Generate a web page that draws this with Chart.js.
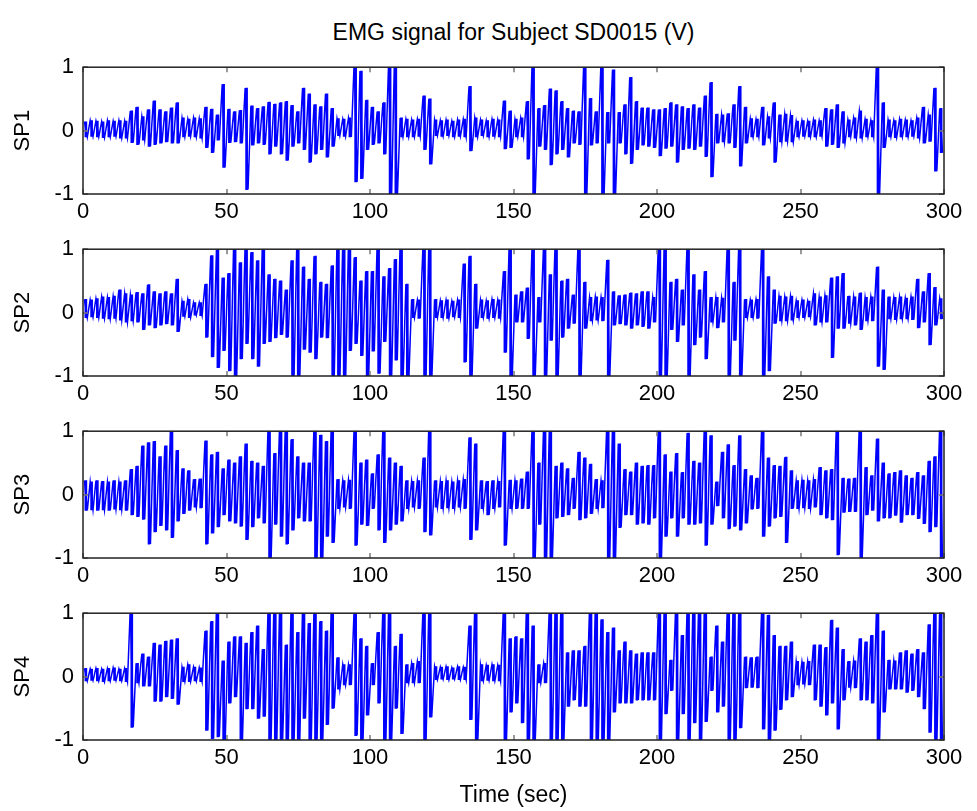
<!DOCTYPE html>
<html>
<head>
<meta charset="utf-8">
<title>EMG signal for Subject SD0015</title>
<script src="https://cdn.jsdelivr.net/npm/chart.js@4.4.0/dist/chart.umd.min.js"></script>
<style>
  body { margin: 0; background: #fff; }
  #page { position: relative; width: 977px; height: 811px; overflow: hidden; font-family: "Liberation Sans", Arial, sans-serif; color: #000; }
  #page canvas { position: absolute; left: 0; }
  .txt { position: absolute; left: 83px; width: 861px; text-align: center; white-space: nowrap; }
</style>
</head>
<body>
<div id="page">
  <div class="txt" id="title" style="top:19px; font-size:23px; line-height:26px;">EMG signal for Subject SD0015 (V)</div>
  <canvas id="c1" width="977" height="183"></canvas>
  <canvas id="c2" width="977" height="183"></canvas>
  <canvas id="c3" width="977" height="183"></canvas>
  <canvas id="c4" width="977" height="183"></canvas>
  <div class="txt" id="xlabel" style="top:781px; font-size:23px; line-height:26px;">Time (sec)</div>
</div>
<script>
// each value pair is the highest and lowest swing read in one 2-second slice
const binSeconds = 2;
const channels = ['SP1', 'SP2', 'SP3', 'SP4'];
const xTicks = [0, 50, 100, 150, 200, 250, 300];
const yTicks = [-1, 0, 1];

const sp1Hi = [
  0.14, 0.16, 0.15, 0.14, 0.16, 0.15, 0.16, 0.15, 0.31, 0.37,
  0.22, 0.33, 0.47, 0.33, 0.30, 0.36, 0.44, 0.20, 0.18, 0.20,
  0.19, 0.37, 0.34, 0.25, 0.73, 0.34, 0.30, 0.32, 0.67, 0.39,
  0.35, 0.38, 0.45, 0.42, 0.44, 0.46, 0.40, 0.30, 0.67, 0.58,
  0.41, 0.38, 0.58, 0.35, 0.19, 0.18, 0.20, 1.10, 0.94, 0.48,
  0.37, 0.30, 0.44, 1.10, 1.10, 0.20, 0.18, 0.17, 0.18, 0.55,
  0.50, 0.17, 0.16, 0.17, 0.15, 0.17, 0.18, 0.70, 0.20, 0.17,
  0.16, 0.18, 0.17, 0.47, 0.31, 0.18, 0.20, 0.46, 1.10, 0.35,
  0.40, 0.66, 0.63, 0.46, 0.35, 0.31, 0.30, 1.10, 0.51, 0.30,
  1.10, 0.29, 0.96, 0.29, 0.41, 0.84, 0.46, 0.36, 0.36, 0.33,
  0.33, 0.35, 0.44, 0.41, 0.38, 0.35, 0.41, 0.36, 0.55, 0.76,
  0.26, 0.25, 0.27, 0.41, 0.70, 0.37, 0.19, 0.18, 0.37, 0.22,
  0.44, 0.25, 0.26, 0.24, 0.15, 0.16, 0.15, 0.17, 0.16, 0.35,
  0.33, 0.41, 0.30, 0.17, 0.20, 0.31, 0.18, 0.16, 1.10, 0.44,
  0.17, 0.16, 0.18, 0.17, 0.16, 0.20, 0.37, 0.25, 0.67, 0.35
];
const sp1Lo = [
  -0.10, -0.09, -0.10, -0.11, -0.10, -0.09, -0.12, -0.12, -0.19, -0.22,
  -0.15, -0.25, -0.22, -0.20, -0.18, -0.20, -0.20, -0.10, -0.09, -0.10,
  -0.12, -0.27, -0.35, -0.15, -0.58, -0.19, -0.18, -0.20, -0.93, -0.23,
  -0.20, -0.22, -0.37, -0.25, -0.37, -0.47, -0.25, -0.20, -0.30, -0.50,
  -0.37, -0.30, -0.42, -0.25, -0.08, -0.09, -0.10, -0.81, -0.76, -0.30,
  -0.22, -0.20, -0.37, -1.10, -1.10, -0.10, -0.10, -0.10, -0.09, -0.30,
  -0.53, -0.08, -0.09, -0.08, -0.10, -0.09, -0.10, -0.32, -0.10, -0.08,
  -0.10, -0.09, -0.10, -0.29, -0.27, -0.10, -0.10, -0.45, -1.10, -0.25,
  -0.30, -0.54, -0.37, -0.30, -0.42, -0.20, -0.22, -1.10, -0.23, -0.20,
  -1.10, -0.20, -1.10, -0.20, -0.37, -0.52, -0.30, -0.23, -0.25, -0.27,
  -0.40, -0.28, -0.25, -0.50, -0.30, -0.28, -0.30, -0.25, -0.41, -0.73,
  -0.20, -0.18, -0.20, -0.27, -0.56, -0.20, -0.10, -0.10, -0.23, -0.12,
  -0.50, -0.18, -0.17, -0.18, -0.10, -0.09, -0.10, -0.10, -0.09, -0.25,
  -0.22, -0.27, -0.20, -0.10, -0.12, -0.12, -0.10, -0.10, -1.10, -0.27,
  -0.10, -0.11, -0.10, -0.10, -0.09, -0.12, -0.20, -0.17, -0.64, -0.35
];

const sp2Hi = [
  0.21, 0.20, 0.22, 0.25, 0.24, 0.26, 0.36, 0.30, 0.28, 0.32,
  0.30, 0.44, 0.33, 0.30, 0.33, 0.30, 0.53, 0.18, 0.21, 0.16,
  0.16, 0.45, 0.90, 0.99, 0.55, 0.62, 1.10, 0.79, 1.10, 0.95,
  0.82, 1.10, 0.60, 0.53, 0.50, 0.36, 0.82, 1.10, 0.72, 0.53,
  0.89, 0.48, 0.45, 0.74, 1.10, 1.10, 1.10, 0.87, 0.50, 0.65,
  0.65, 1.10, 0.57, 0.70, 0.84, 1.10, 0.45, 0.21, 0.20, 1.10,
  1.10, 0.21, 0.19, 0.20, 0.18, 0.20, 0.77, 0.89, 0.45, 0.20,
  0.19, 0.21, 0.20, 0.65, 1.10, 0.28, 0.33, 0.39, 1.10, 0.24,
  1.10, 0.60, 1.10, 0.50, 0.53, 0.28, 1.10, 0.48, 0.24, 0.25,
  0.24, 0.83, 0.33, 0.27, 0.28, 0.31, 0.30, 0.33, 0.33, 0.24,
  1.10, 1.10, 0.48, 0.53, 0.36, 1.10, 0.60, 0.36, 0.65, 0.24,
  0.24, 0.23, 1.10, 0.48, 1.10, 0.21, 0.20, 0.21, 1.10, 0.57,
  0.36, 0.26, 0.25, 0.26, 0.19, 0.20, 0.18, 0.30, 0.25, 0.27,
  0.55, 0.57, 0.62, 0.26, 0.25, 0.31, 0.24, 0.25, 0.72, 0.36,
  0.25, 0.24, 0.25, 0.23, 0.25, 0.53, 0.33, 0.62, 0.40, 0.22
];
const sp2Lo = [
  -0.08, -0.07, -0.08, -0.09, -0.10, -0.09, -0.12, -0.15, -0.13, -0.15,
  -0.27, -0.20, -0.24, -0.20, -0.18, -0.20, -0.30, -0.06, -0.08, -0.04,
  -0.05, -0.39, -0.70, -0.87, -0.60, -0.92, -1.10, -0.73, -0.49, -0.73,
  -0.85, -0.49, -0.46, -0.40, -0.35, -0.39, -1.10, -1.10, -0.58, -0.63,
  -0.73, -0.39, -0.40, -1.10, -1.10, -1.10, -0.60, -0.49, -0.68, -1.10,
  -0.61, -0.96, -0.46, -1.10, -0.75, -1.10, -1.10, -0.08, -0.09, -1.10,
  -1.10, -0.08, -0.08, -0.09, -0.07, -0.08, -0.78, -1.10, -0.25, -0.08,
  -0.09, -0.08, -0.09, -0.63, -1.10, -0.15, -0.15, -0.41, -1.10, -0.15,
  -1.10, -0.44, -1.10, -0.39, -0.25, -0.17, -1.10, -0.25, -0.13, -0.12,
  -0.13, -1.10, -0.20, -0.18, -0.20, -0.25, -0.20, -0.22, -0.25, -0.15,
  -1.10, -1.10, -0.27, -0.46, -0.20, -1.10, -0.51, -0.39, -0.73, -0.15,
  -0.24, -0.15, -1.10, -0.44, -1.10, -0.08, -0.08, -0.09, -1.10, -0.92,
  -0.17, -0.13, -0.13, -0.12, -0.08, -0.08, -0.07, -0.20, -0.15, -0.15,
  -0.71, -0.25, -0.25, -0.17, -0.20, -0.27, -0.13, -0.13, -0.85, -0.90,
  -0.10, -0.11, -0.10, -0.10, -0.11, -0.24, -0.15, -0.51, -0.20, -0.10
];

const sp3Hi = [
  0.22, 0.20, 0.22, 0.21, 0.20, 0.22, 0.20, 0.22, 0.40, 0.45,
  0.77, 0.82, 0.84, 0.60, 0.77, 1.10, 0.70, 0.41, 0.38, 0.24,
  0.25, 0.85, 0.63, 0.67, 0.41, 0.55, 0.50, 0.60, 0.80, 0.53,
  0.50, 0.45, 1.10, 0.65, 1.10, 1.10, 0.87, 0.60, 0.50, 0.50,
  1.10, 0.94, 0.84, 1.10, 0.24, 0.22, 0.23, 1.10, 0.50, 0.55,
  0.33, 0.63, 1.10, 0.58, 0.50, 0.45, 0.22, 0.21, 0.22, 0.58,
  1.10, 0.22, 0.21, 0.22, 0.20, 0.22, 0.24, 0.90, 0.80, 0.22,
  0.21, 0.22, 0.21, 1.10, 0.23, 0.22, 0.25, 0.36, 1.10, 0.50,
  1.10, 1.10, 0.45, 0.50, 0.41, 0.26, 0.67, 0.58, 0.48, 0.24,
  0.22, 1.10, 1.10, 0.80, 0.40, 0.36, 0.50, 0.45, 0.46, 0.46,
  1.10, 0.63, 0.36, 0.65, 0.35, 0.97, 0.53, 0.50, 1.10, 0.93,
  0.20, 0.67, 0.79, 0.46, 0.93, 0.40, 0.30, 0.26, 1.10, 0.58,
  0.46, 0.45, 0.59, 0.38, 0.22, 0.23, 0.22, 0.24, 0.43, 0.38,
  0.40, 1.10, 0.26, 0.25, 0.26, 1.10, 0.43, 0.30, 0.88, 0.50,
  0.33, 0.35, 0.38, 0.30, 0.26, 0.35, 0.30, 0.53, 0.60, 1.10
];
const sp3Lo = [
  -0.25, -0.24, -0.25, -0.24, -0.25, -0.23, -0.24, -0.25, -0.32, -0.35,
  -0.39, -0.78, -0.59, -0.49, -0.56, -0.68, -0.42, -0.30, -0.25, -0.20,
  -0.21, -0.78, -0.61, -0.51, -0.32, -0.42, -0.45, -0.50, -0.71, -0.51,
  -0.37, -0.45, -1.10, -0.47, -0.66, -0.78, -0.56, -0.37, -0.42, -0.42,
  -1.10, -1.10, -0.66, -0.76, -0.22, -0.20, -0.22, -0.80, -0.47, -0.49,
  -0.22, -0.56, -0.76, -0.56, -0.47, -0.42, -0.22, -0.20, -0.22, -0.59,
  -0.64, -0.20, -0.22, -0.21, -0.22, -0.20, -0.22, -0.71, -0.56, -0.22,
  -0.32, -0.22, -0.20, -0.80, -0.22, -0.22, -0.22, -0.22, -1.10, -0.47,
  -1.10, -1.10, -0.37, -0.35, -0.32, -0.22, -0.40, -0.37, -0.30, -0.22,
  -0.21, -1.10, -1.10, -0.52, -0.32, -0.32, -0.47, -0.45, -0.47, -0.37,
  -1.10, -0.66, -0.37, -0.66, -0.37, -0.47, -0.47, -0.45, -0.80, -0.47,
  -0.18, -0.37, -0.54, -0.50, -0.56, -0.45, -0.23, -0.22, -0.66, -0.50,
  -0.37, -0.35, -0.76, -0.22, -0.22, -0.21, -0.22, -0.20, -0.32, -0.37,
  -0.40, -0.95, -0.28, -0.27, -0.27, -1.00, -0.32, -0.25, -0.42, -0.37,
  -0.37, -0.33, -0.44, -0.32, -0.32, -0.38, -0.46, -0.59, -0.51, -1.10
];

const sp4Hi = [
  0.13, 0.12, 0.13, 0.12, 0.13, 0.14, 0.12, 0.13, 1.10, 0.21,
  0.36, 0.31, 0.53, 0.50, 0.56, 0.58, 0.60, 0.15, 0.19, 0.15,
  0.14, 0.72, 0.87, 1.10, 0.25, 0.55, 0.63, 0.63, 0.53, 0.70,
  0.80, 0.43, 1.10, 1.10, 1.10, 0.50, 1.10, 0.70, 1.10, 0.84,
  1.10, 0.87, 0.72, 1.10, 0.30, 0.19, 0.19, 1.10, 0.60, 0.48,
  0.21, 0.70, 1.10, 1.10, 0.48, 0.67, 0.19, 0.21, 0.24, 1.10,
  1.10, 0.16, 0.15, 0.16, 0.14, 0.16, 0.15, 0.80, 1.10, 0.19,
  0.18, 0.19, 0.18, 1.10, 0.60, 0.63, 0.60, 1.10, 0.80, 0.19,
  0.21, 1.10, 1.10, 1.10, 0.38, 0.41, 0.41, 0.48, 1.10, 1.10,
  0.90, 0.70, 0.77, 0.41, 0.55, 0.41, 0.36, 0.38, 0.38, 0.38,
  1.10, 1.10, 0.26, 1.10, 0.65, 1.10, 1.10, 1.10, 1.10, 0.31,
  0.80, 0.55, 1.10, 1.10, 1.10, 0.31, 0.30, 0.31, 1.10, 0.97,
  0.65, 0.48, 0.48, 0.55, 0.24, 0.23, 0.24, 0.50, 0.50, 0.46,
  0.89, 0.77, 0.43, 0.24, 0.25, 0.60, 0.55, 0.65, 1.10, 0.72,
  0.26, 0.25, 0.38, 0.41, 0.36, 0.43, 0.38, 0.82, 1.10, 1.10
];
const sp4Lo = [
  -0.07, -0.06, -0.07, -0.08, -0.07, -0.06, -0.07, -0.08, -0.80, -0.10,
  -0.15, -0.15, -0.39, -0.39, -0.32, -0.35, -0.44, -0.08, -0.08, -0.07,
  -0.08, -0.85, -0.98, -0.95, -1.10, -0.42, -0.32, -1.10, -0.51, -0.51,
  -0.66, -0.63, -1.10, -1.10, -1.10, -1.10, -1.10, -1.10, -0.66, -1.10,
  -1.10, -1.10, -0.76, -0.50, -0.20, -0.13, -0.13, -0.93, -1.10, -0.61,
  -0.13, -0.42, -1.10, -1.10, -0.50, -0.90, -0.10, -0.10, -0.10, -1.10,
  -0.64, -0.05, -0.04, -0.05, -0.04, -0.05, -0.05, -0.68, -1.10, -0.07,
  -0.06, -0.07, -0.07, -1.10, -0.56, -0.42, -0.73, -1.10, -1.10, -0.10,
  -0.10, -1.10, -1.10, -1.10, -0.47, -0.37, -0.47, -0.47, -1.00, -1.10,
  -1.10, -1.10, -0.56, -0.42, -0.42, -0.42, -0.37, -0.37, -0.37, -0.37,
  -1.10, -0.59, -0.22, -1.10, -0.59, -1.10, -0.73, -1.10, -0.71, -0.22,
  -0.56, -0.47, -1.10, -1.10, -0.81, -0.18, -0.17, -0.18, -0.83, -1.10,
  -0.85, -0.52, -0.37, -0.32, -0.13, -0.12, -0.13, -0.37, -0.47, -0.61,
  -0.42, -0.83, -0.37, -0.17, -0.18, -0.37, -0.37, -0.42, -1.10, -0.56,
  -0.20, -0.20, -0.20, -0.25, -0.22, -0.32, -0.51, -0.88, -1.10, -1.10
];

const seriesHi = [sp1Hi, sp2Hi, sp3Hi, sp4Hi];
const seriesLo = [sp1Lo, sp2Lo, sp3Lo, sp4Lo];

// layout of the four stacked axes (pixels)
const plotTops = [57, 239, 421, 603];
const plotHeight = 137;
const padTop = 12;
const xAxisHeight = 34;
const yAxisWidth = 83;
const plotRight = 944;

const fontFamily = '"Liberation Sans", Arial, sans-serif';

// box round the axes with ticks pointing inward, like the original
const framePlugin = {
  id: 'frame',
  afterDatasetsDraw(chart) {
    const { ctx, chartArea: a, scales } = chart;
    ctx.save();
    ctx.strokeStyle = '#7a7a7a';
    ctx.lineWidth = 1.5;
    ctx.beginPath();
    xTicks.forEach(v => {
      const px = Math.round(scales.x.getPixelForValue(v));
      ctx.moveTo(px, a.top); ctx.lineTo(px, a.top + 5);
      ctx.moveTo(px, a.bottom); ctx.lineTo(px, a.bottom - 5);
    });
    yTicks.forEach(v => {
      const py = Math.round(scales.y.getPixelForValue(v));
      ctx.moveTo(a.left, py); ctx.lineTo(a.left + 5, py);
      ctx.moveTo(a.right, py); ctx.lineTo(a.right - 5, py);
    });
    ctx.stroke();
    ctx.strokeStyle = '#222';
    ctx.lineWidth = 1.5;
    ctx.strokeRect(a.left, a.top, a.right - a.left, a.bottom - a.top);
    ctx.restore();
  }
};

// the trace swings from the high reading to the low reading in every slice
function buildTrace(hi, lo) {
  const pts = [];
  for (let i = 0; i < hi.length; i++) {
    pts.push({ x: i * binSeconds + 0.5, y: hi[i] });
    pts.push({ x: i * binSeconds + 1.5, y: lo[i] });
  }
  return pts;
}

// min-max stroke for every slice, as a dense signal plot shows it
function buildRange(hi, lo) {
  return hi.map((h, i) => ({ x: i * binSeconds + 1, y: [lo[i], h] }));
}

channels.forEach((name, k) => {
  const canvas = document.getElementById('c' + (k + 1));
  canvas.style.top = (plotTops[k] - padTop) + 'px';
  canvas.height = padTop + plotHeight + xAxisHeight;

  new Chart(canvas.getContext('2d'), {
    type: 'line',
    data: {
      datasets: [{
        type: 'line',
        label: name,
        data: buildTrace(seriesHi[k], seriesLo[k]),
        parsing: false,
        borderColor: '#0000ff',
        borderWidth: 1.5,
        pointRadius: 0,
        tension: 0,
        fill: false,
        order: 1
      }, {
        type: 'bar',
        label: name + ' range',
        data: buildRange(seriesHi[k], seriesLo[k]),
        backgroundColor: '#0000ff',
        borderWidth: 0,
        barThickness: 2,
        order: 2
      }]
    },
    options: {
      responsive: false,
      animation: false,
      layout: { padding: { top: padTop, left: 0, right: 977 - plotRight, bottom: 0 } },
      plugins: { legend: { display: false }, tooltip: { enabled: false } },
      scales: {
        x: {
          type: 'linear',
          min: 0,
          max: 300,
          offset: false,
          afterBuildTicks: s => { s.ticks = xTicks.map(v => ({ value: v })); },
          afterFit: s => { s.height = xAxisHeight; },
          grid: { display: false, drawTicks: false, offset: false },
          border: { display: false },
          ticks: {
            color: '#000',
            padding: 5,
            maxRotation: 0,
            autoSkip: false,
            font: { family: fontFamily, size: 22 },
            callback: v => String(v)
          }
        },
        y: {
          min: -1,
          max: 1,
          afterBuildTicks: s => { s.ticks = yTicks.map(v => ({ value: v })); },
          afterFit: s => { s.width = yAxisWidth; },
          grid: { display: false, drawTicks: false },
          border: { display: false },
          ticks: {
            color: '#000',
            padding: 9,
            font: { family: fontFamily, size: 22 },
            callback: v => String(v)
          },
          title: {
            display: true,
            text: name,
            color: '#000',
            padding: { top: 10, bottom: 0 },
            font: { family: fontFamily, size: 22 }
          }
        }
      }
    },
    plugins: [framePlugin]
  });
});
</script>
</body>
</html>
